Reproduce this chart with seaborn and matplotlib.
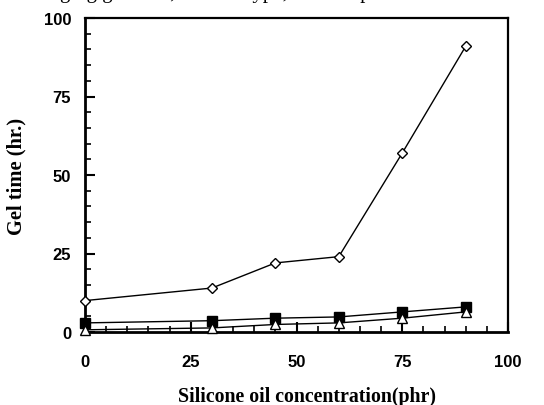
import matplotlib
matplotlib.use("Agg")
import matplotlib.pyplot as plt
import seaborn as sns
import pandas as pd
from matplotlib.ticker import MultipleLocator

# Silicone oil concentration (phr) and gel time (hr.) for three formulations
conc = [0, 30, 45, 60, 75, 90]
gel_diamond = [10, 14, 22, 24, 57, 91]
gel_square = [2.9, 3.6, 4.4, 4.8, 6.4, 8.0]
gel_triangle = [0.7, 1.3, 2.4, 2.9, 4.4, 6.4]

x_ticks = [0, 25, 50, 75, 100]
y_ticks = [0, 25, 50, 75, 100]

sns.set_theme(style="white")
plt.rcParams["font.family"] = ["Liberation Sans", "DejaVu Sans"]

fig = plt.figure(figsize=(5.44, 4.06), dpi=100)
ax = fig.add_axes([85 / 544, 73 / 406, 423 / 544, 314 / 406])

df = pd.DataFrame({
    "conc": conc * 3,
    "gel": gel_diamond + gel_square + gel_triangle,
    "series": ["a"] * 6 + ["b"] * 6 + ["c"] * 6,
})

styles = {
    "a": dict(marker="D", markersize=5.2, markerfacecolor="white"),
    "b": dict(marker="s", markersize=6.5, markerfacecolor="black"),
    "c": dict(marker="^", markersize=7, markerfacecolor="white"),
}
for key in ["a", "b", "c"]:
    sub = df[df["series"] == key]
    sns.lineplot(data=sub, x="conc", y="gel", ax=ax, color="black",
                 linewidth=1.0, markeredgecolor="black", markeredgewidth=1.0,
                 clip_on=False, zorder=3, legend=False, **styles[key])

ax.set_xlim(0, 100)
ax.set_ylim(0, 100)
ax.set_xticks(x_ticks)
ax.set_yticks(y_ticks)
ax.xaxis.set_minor_locator(MultipleLocator(5))
ax.yaxis.set_minor_locator(MultipleLocator(5))
ax.tick_params(which="major", direction="in", length=7, width=1.5,
               color="black", labelsize=12, bottom=True, left=True)
ax.tick_params(which="minor", direction="in", length=4.5, width=1.2,
               color="black", bottom=True, left=True)
ax.tick_params(axis="x", which="major", pad=16)
ax.tick_params(axis="y", which="major", pad=10)
for lbl in ax.get_xticklabels() + ax.get_yticklabels():
    lbl.set_fontweight("bold")
    lbl.set_color("black")

for side in ["left", "bottom"]:
    ax.spines[side].set_linewidth(2.0)
for side in ["top", "right"]:
    ax.spines[side].set_linewidth(1.6)
for sp in ax.spines.values():
    sp.set_color("black")
    sp.set_visible(True)

serif = ["Liberation Serif", "DejaVu Serif"]
ax.set_xlabel("Silicone oil concentration(phr)", fontsize=14.3,
              fontweight="bold", family=serif, color="black")
ax.xaxis.set_label_coords(0.525, -54 / 314)
ax.set_ylabel("Gel time (hr.)", fontsize=14.8, fontweight="bold",
              family=serif, color="black", labelpad=12)

# running text line from the page above the figure, cut at the edge
fig.text(60 / 544, 1 + 2.5 / 406, "ging gel time, solvent type, and temp",
         fontsize=15, family=serif, va="baseline", ha="left", color="black")

fig.savefig("out.png", dpi=100)
